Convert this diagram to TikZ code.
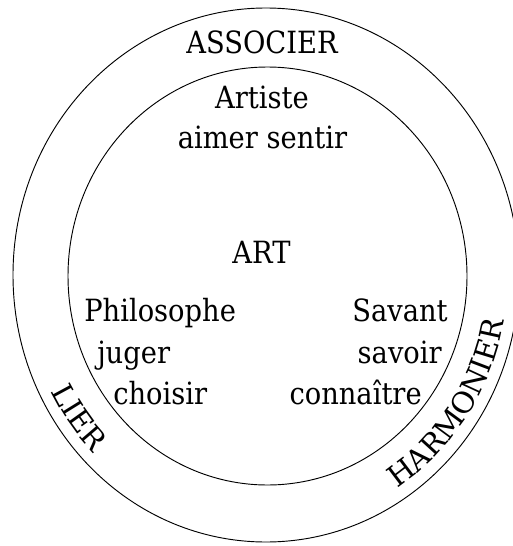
\documentclass[tikz,border=0pt]{standalone}
\usepackage{fontspec}
\setmainfont{DejaVu Serif}
\usetikzlibrary{positioning}
\usetikzlibrary{decorations.text}
\newcommand{\artfont}{\fontsize{20.5}{24}\selectfont}
\newcommand{\ringfont}{\fontsize{22}{24}\selectfont}
\tikzset{
  word/.style={font=\artfont, inner sep=0pt, yscale=1.12},
  ring/.style={line width=0.7pt},
}

\begin{document}
\begin{tikzpicture}[x=0.75pt, y=-0.75pt]
        \useasboundingbox (0,0) rectangle (513,546);

        % circles %
        \draw[ring] (266,275) ellipse [x radius=253, y radius=267];
        \draw[ring] (267.5,276) ellipse [x radius=199.5, y radius=209];

        % nodes %
        \node[word, anchor=base] (associer) at (262,53) {ASSOCIER};
        \node[word, anchor=base] (artiste) at (262,108) {Artiste};
        \node[word, anchor=base] (aimer) at (262.5,148) {aimer sentir};
        \node[word, anchor=base] (art) at (261.5,263) {ART};
        \node[word, anchor=base west] (philo) at (84,321.5) {Philosophe};
        \node[word, anchor=base west] (juger) at (97,363) {juger};
        \node[word, anchor=base west] (choisir) at (113,404) {choisir};
        \node[word, anchor=base east] (savant) at (448,321.5) {Savant};
        \node[word, anchor=base east] (savoir) at (442,363) {savoir};
        \node[word, anchor=base east] (connaitre) at (422,404) {connaître};

        % ring words %
        \path (266,275) ++(166:242 and 254) coordinate (lierstart);
        \path (266,275) ++(67:242 and 254) coordinate (harmstart);
        \path[decorate, decoration={text along path, text align=center, text={|\ringfont|LIER}}]
          (lierstart) arc[start angle=166, end angle=122, x radius=242, y radius=254];
        \path[decorate, decoration={text along path, text align=center, text={|\ringfont|HARMONIER}}]
          (harmstart) arc[start angle=67, end angle=1, x radius=242, y radius=254];
      \end{tikzpicture}
\end{document}
